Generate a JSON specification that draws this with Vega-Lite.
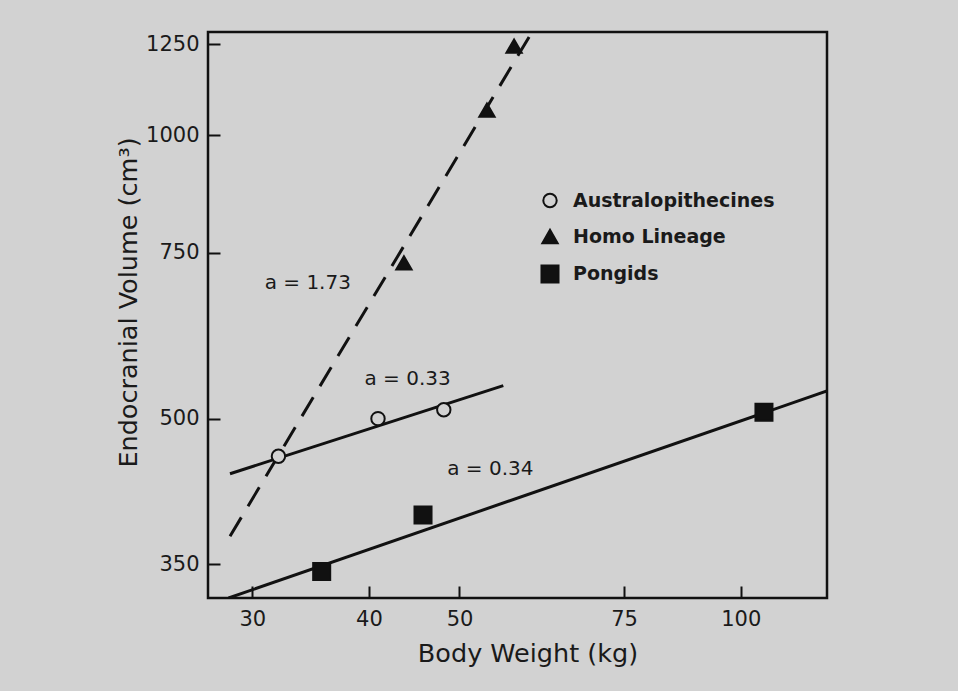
{
  "$schema": "https://vega.github.io/schema/vega-lite/v6.json",
  "autosize": {"type": "none"},
  "padding": {"left": 208, "top": 32, "right": 131, "bottom": 93},
  "width": 619,
  "height": 566,
  "background": "#d2d2d2",
  "config": {
    "view": {"stroke": "#111111", "strokeWidth": 2.5},
    "font": "DejaVu Sans",
    "axis": {
      "grid": false,
      "domain": false,
      "tickColor": "#111111",
      "tickWidth": 2,
      "tickSize": -12,
      "labelFont": "DejaVu Sans",
      "labelFontSize": 21,
      "labelColor": "#1a1a1a",
      "titleFont": "DejaVu Sans",
      "titleFontSize": 25.5,
      "titleFontWeight": "normal",
      "titleColor": "#1a1a1a"
    },
    "legend": {
      "orient": "none",
      "legendX": 332,
      "legendY": 159,
      "labelFont": "DejaVu Sans",
      "labelFontSize": 19,
      "labelFontWeight": "bold",
      "labelColor": "#1a1a1a",
      "labelLimit": 0,
      "symbolStrokeWidth": 2,
      "symbolStrokeColor": "#111111",
      "rowPadding": 13,
      "labelOffset": 13
    }
  },
  "datasets": {
    "points": [
      {"group": "Australopithecines", "weight": 32.0, "volume": 456},
      {"group": "Australopithecines", "weight": 40.9, "volume": 500},
      {"group": "Australopithecines", "weight": 48.1, "volume": 511},
      {"group": "Homo Lineage", "weight": 43.6, "volume": 732},
      {"group": "Homo Lineage", "weight": 53.5, "volume": 1064},
      {"group": "Homo Lineage", "weight": 57.2, "volume": 1244},
      {"group": "Pongids", "weight": 35.6, "volume": 344},
      {"group": "Pongids", "weight": 45.7, "volume": 395},
      {"group": "Pongids", "weight": 105.9, "volume": 508}
    ],
    "lines": [
      {"group": "Australopithecines", "weight": 28.4, "volume": 437},
      {"group": "Australopithecines", "weight": 55.7, "volume": 542},
      {"group": "Homo Lineage", "weight": 28.4, "volume": 375},
      {"group": "Homo Lineage", "weight": 59.8, "volume": 1288},
      {"group": "Pongids", "weight": 28.3, "volume": 322.4},
      {"group": "Pongids", "weight": 123.7, "volume": 535}
    ],
    "labels": [
      {"text": "a = 1.73", "weight": 34.4, "volume": 697},
      {"text": "a = 0.33", "weight": 44.0, "volume": 551},
      {"text": "a = 0.34", "weight": 53.95, "volume": 442}
    ]
  },
  "encoding": {
    "x": {
      "field": "weight",
      "type": "quantitative",
      "scale": {"type": "log", "domain": [26.9, 123.7], "nice": false, "zero": false},
      "axis": {
        "values": [30, 40, 50, 75, 100],
        "format": "d",
        "title": "Body Weight (kg)",
        "labelPadding": 22.5,
        "titlePadding": 12,
        "titleX": 319.5
      }
    },
    "y": {
      "field": "volume",
      "type": "quantitative",
      "scale": {"type": "log", "domain": [322.4, 1287.8], "nice": false, "zero": false},
      "axis": {
        "values": [350, 500, 750, 1000, 1250],
        "format": "d",
        "title": "Endocranial Volume (cm³)",
        "labelPadding": 21,
        "titlePadding": 4,
        "titleY": 270
      }
    }
  },
  "layer": [
    {
      "data": {"name": "lines"},
      "transform": [{"filter": "datum.group !== 'Homo Lineage'"}],
      "mark": {"type": "line", "color": "#111111", "strokeWidth": 3, "clip": true},
      "encoding": {"detail": {"field": "group"}}
    },
    {
      "data": {"name": "lines"},
      "transform": [{"filter": "datum.group === 'Homo Lineage'"}],
      "mark": {"type": "line", "color": "#111111", "strokeWidth": 3, "strokeDash": [22, 13], "clip": true},
      "encoding": {"detail": {"field": "group"}}
    },
    {
      "data": {"name": "points"},
      "mark": {"type": "point", "strokeWidth": 2, "opacity": 1, "filled": false},
      "encoding": {
        "size": {
          "field": "group",
          "type": "nominal",
          "scale": {"domain": ["Australopithecines", "Homo Lineage", "Pongids"], "range": [180, 290, 210]},
          "legend": {"title": null}
        },
        "shape": {
          "field": "group",
          "type": "nominal",
          "scale": {"domain": ["Australopithecines", "Homo Lineage", "Pongids"], "range": ["circle", "triangle-up", "square"]},
          "legend": {"title": null}
        },
        "stroke": {
          "field": "group",
          "type": "nominal",
          "scale": {"domain": ["Australopithecines", "Homo Lineage", "Pongids"], "range": ["#111111", "#111111", "#111111"]},
          "legend": {"title": null}
        },
        "fill": {
          "field": "group",
          "type": "nominal",
          "scale": {"domain": ["Australopithecines", "Homo Lineage", "Pongids"], "range": ["#d2d2d2", "#111111", "#111111"]},
          "legend": {"title": null}
        }
      }
    },
    {
      "data": {"name": "labels"},
      "mark": {"type": "text", "font": "DejaVu Sans", "fontSize": 20, "color": "#1a1a1a", "align": "center", "baseline": "middle"},
      "encoding": {"text": {"field": "text"}}
    }
  ]
}
